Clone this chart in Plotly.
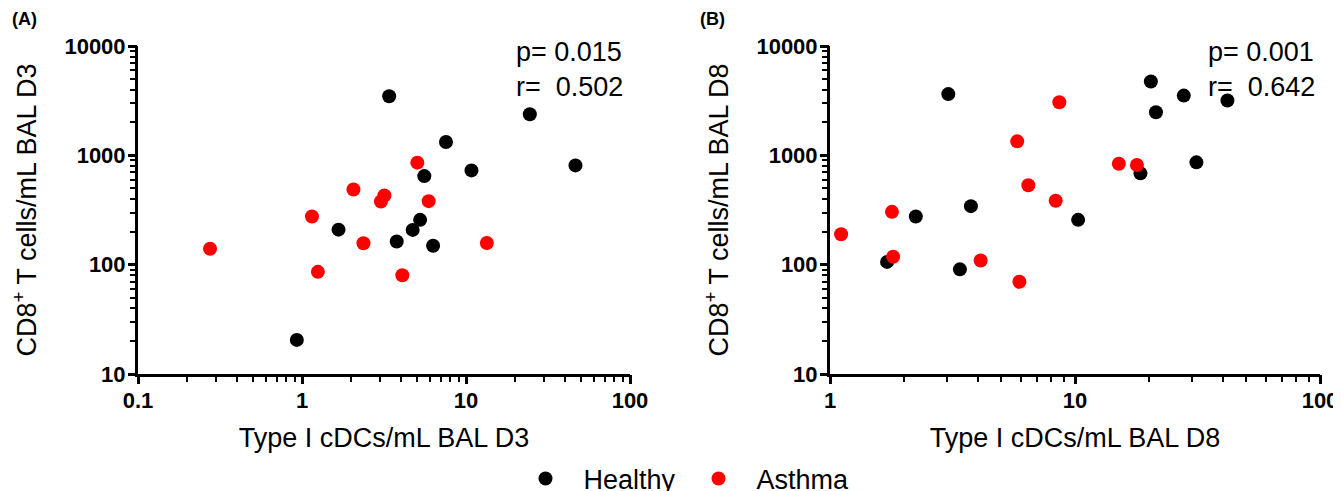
import plotly.graph_objects as go

# Panel A (D3)
a_healthy_x = [3.40, 24.5, 7.55, 10.8, 46.5, 5.57, 1.67, 5.25, 4.73, 3.78, 6.30, 0.93]
a_healthy_y = [3470, 2377, 1324, 728, 809, 646, 209, 257, 208, 163, 149, 20.5]
a_asthma_x = [0.275, 1.15, 1.25, 5.05, 2.06, 3.18, 3.03, 5.92, 2.37, 13.4, 4.09]
a_asthma_y = [140, 276, 86, 857, 487, 429, 378, 381, 157, 158, 80]

# Panel B (D8)
b_healthy_x = [1.71, 2.24, 3.04, 3.76, 3.39, 10.3, 18.5, 20.4, 21.4, 27.8, 41.9, 31.3]
b_healthy_y = [106, 276, 3630, 343, 90.6, 257, 684, 4730, 2478, 3520, 3170, 863]
b_asthma_x = [1.11, 1.79, 1.81, 4.12, 5.81, 8.63, 6.45, 8.34, 5.93, 15.1, 17.9]
b_asthma_y = [190, 304, 118, 109, 1343, 3063, 533, 384, 69.8, 838, 815]

group_names = ["Healthy", "Asthma"]
group_colors = ["#000000", "#ff0000"]

stats_a = ["p= 0.015", "r=  0.502"]
stats_b = ["p= 0.001", "r=  0.642"]

x_title_a = "Type I cDCs/mL BAL D3"
x_title_b = "Type I cDCs/mL BAL D8"
y_title_a = "CD8<sup>+</sup> T cells/mL BAL D3"
y_title_b = "CD8<sup>+</sup> T cells/mL BAL D8"
y_ticks = [10, 100, 1000, 10000]
x_ticks_a = [0.1, 1, 10, 100]
x_ticks_b = [1, 10, 100]


def all_tick_vals(decades):
    # decade ticks plus the 2..9 minor positions (axis decoration only)
    vals = []
    for d in decades[:-1]:
        vals += [d * k for k in range(1, 10)]
    return vals + [decades[-1]]


def all_tick_text(decades):
    return [str(v) if v in decades else "" for v in all_tick_vals(decades)]


FONT = "Liberation Sans, Arial, sans-serif"

fig = go.Figure()
mk = 14
fig.add_trace(go.Scatter(x=a_healthy_x, y=a_healthy_y, mode="markers", name=group_names[0],
                         marker=dict(color=group_colors[0], size=mk), xaxis="x", yaxis="y",
                         legendgroup="h"))
fig.add_trace(go.Scatter(x=a_asthma_x, y=a_asthma_y, mode="markers", name=group_names[1],
                         marker=dict(color=group_colors[1], size=mk), xaxis="x", yaxis="y",
                         legendgroup="a"))
fig.add_trace(go.Scatter(x=b_healthy_x, y=b_healthy_y, mode="markers", name=group_names[0],
                         marker=dict(color=group_colors[0], size=mk), xaxis="x2", yaxis="y2",
                         legendgroup="h", showlegend=False))
fig.add_trace(go.Scatter(x=b_asthma_x, y=b_asthma_y, mode="markers", name=group_names[1],
                         marker=dict(color=group_colors[1], size=mk), xaxis="x2", yaxis="y2",
                         legendgroup="a", showlegend=False))
# empty helper traces so the long decade-tick overlay axes get drawn
for xr, yr in [("x3", "y"), ("x", "y3"), ("x4", "y2"), ("x2", "y4")]:
    fig.add_trace(go.Scatter(x=[None], y=[None], xaxis=xr, yaxis=yr, showlegend=False,
                             hoverinfo="skip", mode="markers"))

OFF = 8
W, H = 1341 - OFF, 491 - OFF
ydom = [1 - (374 - OFF) / H, 1 - (46 - OFF) / H]
xdom_a = [(138 - OFF) / W, (630 - OFF) / W]
xdom_b = [(830 - OFF) / W, (1320 - OFF) / W]


def axis_common(decades, title, standoff):
    return dict(
        type="log", showgrid=False, zeroline=False, showline=True, linecolor="black",
        linewidth=3, ticks="outside", ticklen=5, tickwidth=2, tickcolor="black",
        tickmode="array", tickvals=all_tick_vals(decades), ticktext=all_tick_text(decades),
        tickfont=dict(family=FONT, size=22, color="black", weight="bold"),
        title=dict(text=title, standoff=standoff,
                   font=dict(family=FONT, size=27, color="black")),
        mirror=False, fixedrange=True, automargin=False,
    )


def decade_axis(decades, rng, overlay, anchor, dom, side):
    return dict(
        type="log", range=rng, overlaying=overlay, anchor=anchor, domain=dom, side=side,
        showgrid=False, zeroline=False, showline=False, showticklabels=False,
        ticks="outside", ticklen=9, tickwidth=3, tickcolor="black",
        tickmode="array", tickvals=decades, fixedrange=True, automargin=False,
    )


xa = axis_common(x_ticks_a, x_title_a, 16)
xa.update(domain=xdom_a, range=[-1, 2], anchor="y")
ya = axis_common(y_ticks, y_title_a, 20)
ya.update(domain=ydom, range=[1, 4], anchor="x")
xb = axis_common(x_ticks_b, x_title_b, 16)
xb.update(domain=xdom_b, range=[0, 2], anchor="y2")
yb = axis_common(y_ticks, y_title_b, 20)
yb.update(domain=ydom, range=[1, 4], anchor="x2")

annotations = []
for text, x0 in [("<b>(A)</b>", 10 - OFF), ("<b>(B)</b>", 698 - OFF)]:
    annotations.append(dict(text=text, x=x0 / W, y=1 - (19 - OFF) / H, xref="paper",
                            yref="paper", xanchor="left", yanchor="middle", showarrow=False,
                            font=dict(family=FONT, size=18, color="black")))
for stats, x0 in [(stats_a, 514 - OFF), (stats_b, 1206 - OFF)]:
    annotations.append(dict(text="<br>".join(stats), x=x0 / W, y=1 - (35 - OFF) / H,
                            xref="paper", yref="paper", xanchor="left", yanchor="top",
                            align="left", showarrow=False,
                            font=dict(family=FONT, size=27, color="black")))

fig.update_layout(
    width=W, height=H,
    margin=dict(l=0, r=0, t=0, b=0, autoexpand=False),
    paper_bgcolor="white", plot_bgcolor="white",
    xaxis=xa, yaxis=ya, xaxis2=xb, yaxis2=yb,
    xaxis3=decade_axis(x_ticks_a, [-1, 2], "x", "y", xdom_a, "bottom"),
    yaxis3=decade_axis(y_ticks, [1, 4], "y", "x", ydom, "left"),
    xaxis4=decade_axis(x_ticks_b, [0, 2], "x2", "y2", xdom_b, "bottom"),
    yaxis4=decade_axis(y_ticks, [1, 4], "y2", "x2", ydom, "left"),
    annotations=annotations,
    showlegend=True,
    legend=dict(orientation="h", x=673 / W, xanchor="center", y=1 - (479 - OFF) / H,
                yanchor="middle", font=dict(family=FONT, size=27, color="black"),
                itemwidth=66, bgcolor="rgba(0,0,0,0)"),
    font=dict(family=FONT, color="black"),
)

fig.write_html("out.html")
